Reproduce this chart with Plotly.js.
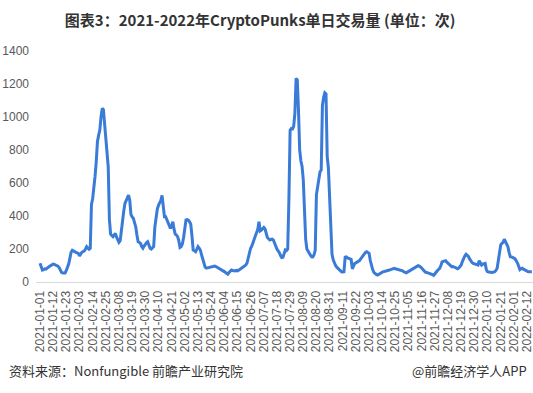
<!DOCTYPE html>
<html>
<head>
<meta charset="utf-8">
<script src="https://cdn.plot.ly/plotly-3.0.1.min.js"></script>
<style>
html,body{margin:0;padding:0;background:#fff;}
#chart{width:533px;height:393px;}
</style>
</head>
<body>
<div id="chart"></div>
<script>
// Data: daily trades, starting 2021-01-01
const startDate = '2021-01-01';
const dailyTrades = [
113,90,72,75,80,78,86,90,95,100,
104,108,107,104,103,96,88,75,58,55,
54,55,70,88,110,145,180,192,186,184,
180,176,174,158,170,180,184,188,200,214,
205,198,204,470,505,560,640,730,850,890,
921,1000,1052,1045,960,870,780,700,380,290,
282,275,285,295,272,255,240,250,320,376,
430,477,495,510,527,495,410,395,386,360,
335,285,244,240,234,215,205,218,232,238,
244,225,205,200,206,214,335,400,440,465,
480,495,525,440,396,396,380,365,345,325,
340,365,320,290,285,275,250,210,215,232,
270,330,376,378,375,365,350,280,194,190,
184,198,214,205,194,165,135,112,90,84,
86,90,93,94,95,96,97,94,90,87,
84,78,73,68,63,58,52,48,58,66,
73,70,68,67,70,68,72,76,82,88,
92,98,103,115,150,190,205,218,240,262,
280,298,320,365,310,315,325,330,322,285,
270,262,255,258,260,255,235,214,200,188,
178,160,148,150,180,194,190,200,500,920,
930,928,945,1022,1234,1224,1040,800,735,700,
620,420,260,200,185,174,162,153,152,165,
194,530,570,625,668,679,1070,1120,1147,1140,
759,690,500,300,170,135,115,100,90,83,
76,68,62,61,62,150,152,146,143,140,
138,80,95,113,116,120,124,130,140,150,
162,175,180,184,180,174,130,93,75,58,
50,46,42,45,50,55,60,63,65,67,
69,71,73,75,78,80,83,80,78,76,
74,73,73,68,62,57,56,60,64,67,
71,75,79,83,90,95,99,96,92,85,
75,65,60,58,56,54,52,48,45,41,
52,62,68,76,83,100,122,125,128,129,
120,113,105,98,93,94,93,88,84,80,
85,95,103,125,144,158,168,162,155,140,
125,118,112,109,107,105,103,129,115,103,
108,112,113,75,62,60,58,56,58,60,
62,70,83,130,174,225,234,240,259,246,
232,214,180,153,152,150,145,140,130,115,
95,75,80,83,78,73,68,63,62,62,61,62
];
const tickLabels = [
'2021-01-01','2021-01-12','2021-01-23','2021-02-03','2021-02-14','2021-02-25',
'2021-03-08','2021-03-19','2021-03-30','2021-04-10','2021-04-21','2021-05-02',
'2021-05-13','2021-05-24','2021-06-04','2021-06-15','2021-06-26','2021-07-07',
'2021-07-18','2021-07-29','2021-08-09','2021-08-20','2021-08-31','2021-09-11',
'2021-09-22','2021-10-03','2021-10-14','2021-10-25','2021-11-05','2021-11-16',
'2021-11-27','2021-12-08','2021-12-19','2021-12-30','2022-01-10','2022-01-21',
'2022-02-01','2022-02-12'
];
const yTicks = [0,200,400,600,800,1000,1200,1400];

const DAY = 86400000;
const t0 = Date.UTC(2021,0,1);
function fmt(ms){
  const d = new Date(ms);
  const p = n => String(n).padStart(2,'0');
  return d.getUTCFullYear()+'-'+p(d.getUTCMonth()+1)+'-'+p(d.getUTCDate())+' '+p(d.getUTCHours())+':'+p(d.getUTCMinutes());
}
const dates = dailyTrades.map((v,i)=>fmt(t0+i*DAY).slice(0,10));

const trace = {
  x: dates, y: dailyTrades, type:'scatter', mode:'lines',
  line:{color:'#3a7bd8', width:3}, hoverinfo:'x+y'
};

const tickFont = {family:'Liberation Sans, Arial, sans-serif', size:12, color:'#595959'};
const layout = {
  width:533, height:393,
  margin:{l:36, r:0, t:51, b:111},
  paper_bgcolor:'#fff', plot_bgcolor:'#fff',
  showlegend:false,
  title:{text:'图表3：2021-2022年CryptoPunks单日交易量 (单位：次)',
    font:{family:'Noto Sans CJK SC, sans-serif', size:15, color:'#333', weight:'bold'},
    x:0.488, xanchor:'center', xref:'container', y:0.948, yref:'container', yanchor:'middle'},
  xaxis:{type:'date', range:[fmt(t0-3.34*DAY), fmt(t0+411.97*DAY)],
    tickmode:'array', tickvals:tickLabels, ticktext:tickLabels, tickangle:-90,
    tickfont:tickFont, showgrid:false, zeroline:false, showline:true,
    linecolor:'#d9d9d9', linewidth:1, ticks:'', ticklabelstandoff:3,
    ticklabeloverflow:'allow', fixedrange:true},
  yaxis:{range:[0,1400], tickmode:'array', tickvals:yTicks, ticktext:yTicks.map(String),
    tickfont:tickFont, showgrid:false, zeroline:false, showline:false, ticks:'',
    ticklabelstandoff:6, fixedrange:true},
  annotations:[
    {text:'资料来源：Nonfungible 前瞻产业研究院', xref:'paper', yref:'paper', x:0, y:0,
     xshift:-29, yshift:-88, xanchor:'left', yanchor:'middle', showarrow:false,
     font:{family:'Noto Sans CJK SC, sans-serif', size:13, color:'#333'}},
    {text:'@前瞻经济学人APP', xref:'paper', yref:'paper', x:1, y:0,
     xshift:-4, yshift:-88, xanchor:'right', yanchor:'middle', showarrow:false,
     font:{family:'Noto Sans CJK SC, sans-serif', size:13, color:'#333'}}
  ]
};
Plotly.newPlot('chart',[trace],layout,{displayModeBar:false, staticPlot:true});
</script>
</body>
</html>
